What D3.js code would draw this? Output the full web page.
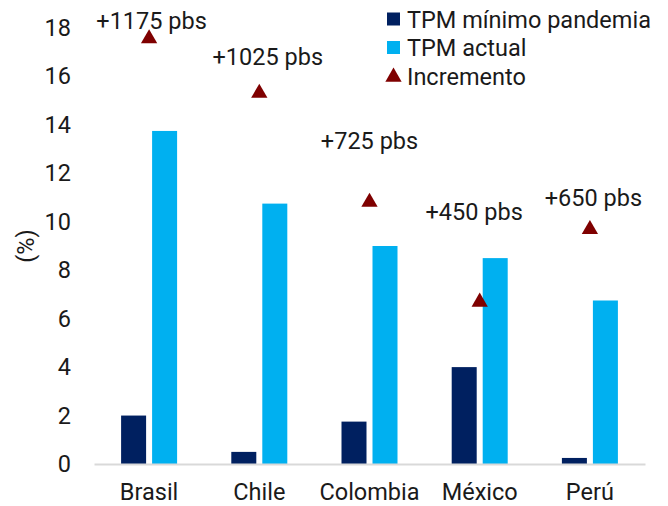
<!DOCTYPE html>
<html>
<head>
<meta charset="utf-8">
<script src="https://cdn.jsdelivr.net/npm/d3@7"></script>
<style>
  html, body { margin: 0; padding: 0; background: #fff; }
  svg { display: block; font-family: Roboto, "Noto Sans", sans-serif; }
</style>
</head>
<body>
<svg id="chart" width="668" height="506"></svg>
<script>
// Policy rates by country (%)
const countries = ["Brasil", "Chile", "Colombia", "México", "Perú"];
const tpmMinimo = [2, 0.5, 1.75, 4, 0.25];
const tpmActual = [13.75, 10.75, 9, 8.5, 6.75];
// Increase in percentage points (plotted on a hidden secondary axis, 0–12)
const incremento = [11.75, 10.25, 7.25, 4.5, 6.5];
const incrementoLabels = ["+1175 pbs", "+1025 pbs", "+725 pbs", "+450 pbs", "+650 pbs"];
const yTicks = [0, 2, 4, 6, 8, 10, 12, 14, 16, 18];
const seriesNames = ["TPM mínimo pandemia", "TPM actual", "Incremento"];

// Manual placement of the increment labels (px, relative to each marker)
const labelOffsets = [[2.5, -8.5], [8.5, -27], [0, -51.5], [-5.5, -81], [3.5, -21.5]];

const colors = { minimo: "#002060", actual: "#00B0F0", incremento: "#7F0000", axis: "#D9D9D9", text: "#1a1a1a" };

const svg = d3.select("#chart");
const margin = { left: 94, right: 23, top: 28, bottom: 42 };
const W = 668, H = 506;
const fs = 23.5;

const x = d3.scaleBand().domain(countries).range([margin.left, W - margin.right]);
const y = d3.scaleLinear().domain([0, 18]).range([H - margin.bottom, margin.top]);
const y2 = d3.scaleLinear().domain([0, 12]).range([H - margin.bottom, margin.top]);

const barW = 25, gap = 6;

// Y axis labels (no axis line)
const yAxis = d3.axisLeft(y).tickValues(yTicks).tickSize(0).tickPadding(0);
const gy = svg.append("g").attr("transform", `translate(${margin.left - 23},0)`).call(yAxis);
gy.select(".domain").remove();
gy.selectAll("text").attr("font-size", fs).attr("font-family", "Roboto").attr("fill", colors.text);

// Y axis title
svg.append("text")
  .attr("transform", `translate(34,${(y(9))}) rotate(-90)`)
  .attr("text-anchor", "middle")
  .attr("font-size", fs).attr("fill", colors.text)
  .text("(%)");

// Bars
svg.append("g").selectAll("rect").data(countries).join("rect")
  .attr("x", d => x(d) + x.bandwidth() / 2 - gap / 2 - barW)
  .attr("width", barW)
  .attr("y", (d, i) => y(tpmMinimo[i]))
  .attr("height", (d, i) => y(0) - y(tpmMinimo[i]))
  .attr("fill", colors.minimo);

svg.append("g").selectAll("rect").data(countries).join("rect")
  .attr("x", d => x(d) + x.bandwidth() / 2 + gap / 2)
  .attr("width", barW)
  .attr("y", (d, i) => y(tpmActual[i]))
  .attr("height", (d, i) => y(0) - y(tpmActual[i]))
  .attr("fill", colors.actual);

// X axis
const xAxis = d3.axisBottom(x).tickSize(0).tickPadding(0);
const gx = svg.append("g").attr("transform", `translate(0,${y(0)})`).call(xAxis);
gx.select(".domain").attr("stroke", colors.axis).attr("stroke-width", 2);
gx.selectAll("text").attr("font-size", fs).attr("font-family", "Roboto").attr("fill", colors.text)
  .attr("dy", null).attr("y", 36);

// Increment markers
const tri = d3.symbol().type(d3.symbolTriangle).size(115);
svg.append("g").selectAll("path").data(countries).join("path")
  .attr("d", tri)
  .attr("transform", (d, i) => `translate(${x(d) + x.bandwidth() / 2},${y2(incremento[i]) + 1.5})`)
  .attr("fill", colors.incremento);

// Increment labels
svg.append("g").selectAll("text").data(countries).join("text")
  .attr("x", (d, i) => x(d) + x.bandwidth() / 2 + labelOffsets[i][0])
  .attr("y", (d, i) => y2(incremento[i]) + labelOffsets[i][1])
  .attr("text-anchor", "middle")
  .attr("font-size", fs).attr("fill", colors.text)
  .text((d, i) => incrementoLabels[i]);

// Legend
const lg = svg.append("g").attr("transform", "translate(387,19)");
seriesNames.forEach((name, i) => {
  const row = lg.append("g").attr("transform", `translate(0,${i * 28.5})`);
  if (i < 2) {
    row.append("rect").attr("x", 0).attr("y", -6.5).attr("width", 13).attr("height", 13)
      .attr("fill", i === 0 ? colors.minimo : colors.actual);
  } else {
    row.append("path").attr("d", tri).attr("transform", "translate(6.5,1)").attr("fill", colors.incremento);
  }
  row.append("text").attr("x", 20).attr("y", 8.5).attr("font-size", fs).attr("fill", colors.text).text(name);
});
</script>
</body>
</html>
